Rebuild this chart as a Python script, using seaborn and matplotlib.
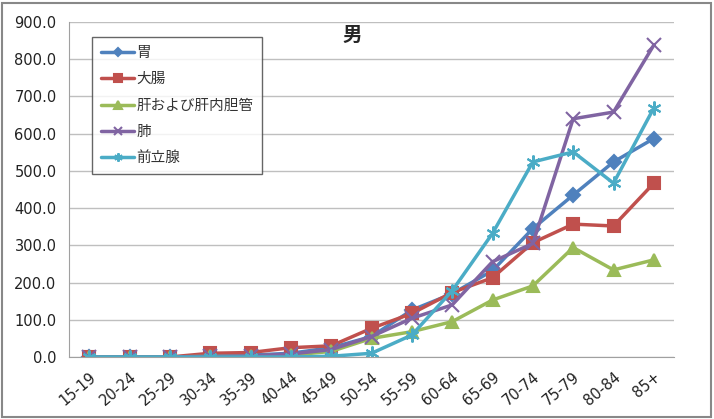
import pandas as pd
import matplotlib.pyplot as plt
import seaborn as sns
from matplotlib.patches import Rectangle
from matplotlib.ticker import FormatStrFormatter, FixedLocator

age_groups = ['15-19', '20-24', '25-29', '30-34', '35-39', '40-44', '45-49',
              '50-54', '55-59', '60-64', '65-69', '70-74', '75-79', '80-84', '85+']

stomach = [0, 0, 0, 3, 5, 10, 25, 55, 126, 170, 232, 345, 435, 524, 587]
colon = [0, 0, 0, 10, 12, 25, 30, 77, 117, 173, 213, 307, 357, 352, 467]
liver = [0, 0, 0, 2, 3, 5, 15, 50, 68, 95, 153, 191, 294, 234, 261]
lung = [0, 0, 0, 2, 3, 8, 20, 55, 104, 140, 256, 305, 640, 658, 838]
prostate = [0, 0, 0, 0, 0, 0, 2, 10, 59, 178, 332, 524, 551, 467, 669]

series_names = ['胃', '大腸', '肝および肝内胆管', '肺', '前立腺']
colors = ['#4F81BD', '#C0504D', '#9BBB59', '#8064A2', '#4BACC6']
markers = ['D', 's', '^', 'x', (6, 2, 0)]
msizes = [7, 9, 9, 10, 10]

df = pd.DataFrame({'年齢': age_groups, '胃': stomach, '大腸': colon,
                   '肝および肝内胆管': liver, '肺': lung, '前立腺': prostate})
long = df.melt(id_vars='年齢', var_name='部位', value_name='値')

sns.set_style('white')
plt.rcParams['font.family'] = ['Noto Sans CJK JP', 'DejaVu Sans']

fig = plt.figure(figsize=(7.14, 4.19), dpi=100)
ax = fig.add_axes([69 / 714, 62 / 419, 605 / 714, 335 / 419])

for name, c, m, s in zip(series_names, colors, markers, msizes):
    sub = long[long['部位'] == name]
    sns.lineplot(data=sub, x='年齢', y='値', ax=ax, color=c, marker=m,
                 markersize=s, markeredgecolor=c, markeredgewidth=1.5,
                 linewidth=2.5, label=name)

ax.set_xlim(-0.5, len(age_groups) - 0.5)
ax.set_ylim(0, 900)
ax.set_yticks(range(0, 901, 100))
ax.yaxis.set_major_formatter(FormatStrFormatter('%.1f'))
ax.grid(axis='y', color='#BFBFBF', linewidth=1)
ax.set_axisbelow(True)
ax.set_xlabel('')
ax.set_ylabel('')
for sp in ['top', 'right']:
    ax.spines[sp].set_visible(False)
for sp in ['left', 'bottom']:
    ax.spines[sp].set_color('#A0A0A0')

ax.set_xticks(range(len(age_groups)))
ax.set_xticklabels(age_groups, rotation=40, ha='right', rotation_mode='anchor',
                   fontsize=10.5, color='#222222', family='DejaVu Sans')
ax.tick_params(axis='x', which='major', length=0, pad=9)
ax.xaxis.set_minor_locator(FixedLocator([i - 0.5 for i in range(len(age_groups) + 1)]))
ax.tick_params(axis='x', which='minor', length=5, color='#A0A0A0', width=1)
ax.tick_params(axis='y', labelsize=10.5, labelcolor='#222222', length=0, pad=9)
for lbl in ax.get_yticklabels():
    lbl.set_family('DejaVu Sans')

leg = ax.legend(loc='upper left', bbox_to_anchor=(0.038, 0.955), fontsize=10.5,
                frameon=True, fancybox=False, handlelength=2.3, labelspacing=0.85,
                borderpad=0.6, handletextpad=0.15, markerscale=0.6,
                borderaxespad=0)
leg.get_frame().set_edgecolor('#404040')
leg.get_frame().set_linewidth(1)
for t in leg.get_texts():
    t.set_color('#333333')

ax.text(0.468, 0.96, '男', transform=ax.transAxes, ha='center', va='center',
        fontsize=14, fontweight='bold')

fig.patches.append(Rectangle((0.003, 0.004), 0.993, 0.99, transform=fig.transFigure,
                             fill=False, edgecolor='#888888', linewidth=1.5))

fig.savefig('out.png', dpi=100)
